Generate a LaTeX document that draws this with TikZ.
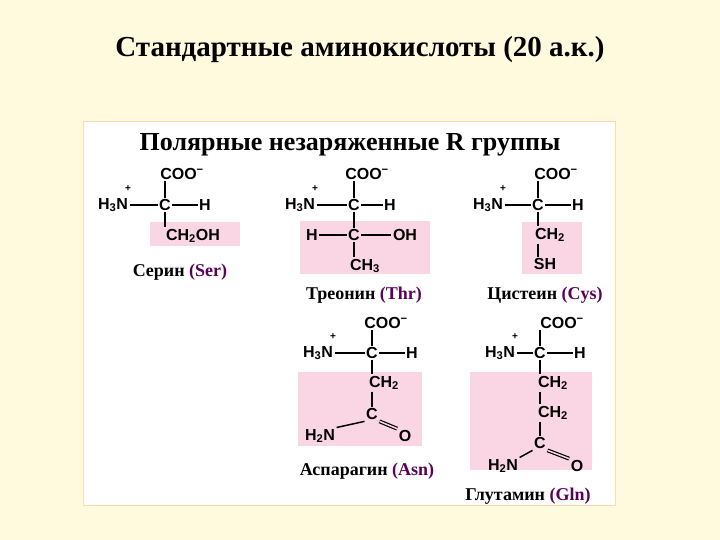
\documentclass[tikz,border=0pt]{standalone}
\usepackage{fontspec}
\setmainfont{Liberation Serif}
\setsansfont{Liberation Sans}
\definecolor{pinkbg}{RGB}{250,214,228}
\definecolor{bgc}{RGB}{255,250,222}
\begin{document}
\begin{tikzpicture}[x=1pt,y=-1pt,
  ch/.style={font=\sffamily\bfseries\fontsize{16}{16}\selectfont,inner sep=1.5pt},
  pl/.style={font=\sffamily\bfseries\fontsize{10}{10}\selectfont,inner sep=0pt},
  bd/.style={line width=1.5pt},
  pk/.style={fill=pinkbg,draw=none},
  lbl/.style={font=\bfseries\fontsize{18}{18}\selectfont}]
\useasboundingbox (0,0) rectangle (720,540);
\fill[bgc] (0,0) rectangle (720,540);
\fill[white] (83,122) rectangle (615,505);
\draw[orange!30,line width=1pt] (83,122) rectangle (615,505);
\node (title) at (360,50) {\bfseries\fontsize{29}{29}\selectfont Стандартные аминокислоты (20 а.к.)};
\node (sub) at (350,145) {\bfseries\fontsize{26}{26}\selectfont Полярные незаряженные R группы};
% pink boxes
\fill[pk] (150,222) rectangle (240,246);
\fill[pk] (300,221) rectangle (430,274);
\fill[pk] (522,222) rectangle (582,274);
\fill[pk] (298,372) rectangle (422,446);
\fill[pk] (470,372) rectangle (592,470);
% Serine
\node[ch] (s1) at (182,174) {COO\textsuperscript{−}};
\node[ch] (sN) at (113,205) {H\textsubscript{3}N};
\node[pl] (sp) at (128,189) {+};
\node[ch] (sC) at (165,205) {C};
\node[ch] (sH) at (205,205) {H};
\node[ch] (sR) at (193,236) {CH\textsubscript{2}OH};
\draw[bd] (sN) -- (sC) (sC) -- (sH);
\draw[bd] (sC.north) -- (sC.north|-s1.south) (sC.south) -- (sC.south|-sR.north);
\node[lbl] (sl) at (180,272) {Серин {\color{violet!70!black}(Ser)}};
% Threonine
\node[ch] (t1) at (367,174) {COO\textsuperscript{−}};
\node[ch] (tN) at (300,205) {H\textsubscript{3}N};
\node[pl] (tp) at (315,189) {+};
\node[ch] (tC) at (354,205) {C};
\node[ch] (tH) at (390,205) {H};
\node[ch] (tH2) at (312,235) {H};
\node[ch] (tC2) at (354,235) {C};
\node[ch] (tO) at (405,235) {OH};
\node[ch] (tR) at (365,266) {CH\textsubscript{3}};
\draw[bd] (tN) -- (tC) (tC) -- (tH) (tH2) -- (tC2) (tC2) -- (tO) (tC) -- (tC2);
\draw[bd] (tC.north) -- (tC.north|-t1.south) (tC2.south) -- (tC2.south|-tR.north);
\node[lbl] (tl) at (364,295) {Треонин {\color{violet!70!black}(Thr)}};
% Cysteine
\node[ch] (c1) at (556,174) {COO\textsuperscript{−}};
\node[ch] (cN) at (488,205) {H\textsubscript{3}N};
\node[pl] (cp) at (503,189) {+};
\node[ch] (cC) at (538,205) {C};
\node[ch] (cH) at (578,205) {H};
\node[ch] (cR) at (550,235) {CH\textsubscript{2}};
\node[ch] (cS) at (545,264) {SH};
\draw[bd] (cN) -- (cC) (cC) -- (cH);
\draw[bd] (cC.north) -- (cC.north|-c1.south) (cC.south) -- (cC.south|-cR.north) (cR.south-|cC) -- (cS.north-|cC);
\node[lbl] (cl) at (545,295) {Цистеин {\color{violet!70!black}(Cys)}};
% Asparagine
\node[ch] (a1) at (386,323) {COO\textsuperscript{−}};
\node[ch] (aN) at (318,353) {H\textsubscript{3}N};
\node[pl] (ap) at (333,337) {+};
\node[ch] (aC) at (372,353) {C};
\node[ch] (aH) at (412,353) {H};
\node[ch] (aR) at (384,383) {CH\textsubscript{2}};
\node[ch] (aC2) at (372,414) {C};
\node[ch] (aA) at (320,436) {H\textsubscript{2}N};
\node[ch] (aO) at (405,436) {O};
\draw[bd] (aN) -- (aC) (aC) -- (aH);
\draw[bd] (aC.north) -- (aC.north|-a1.south) (aC.south) -- (aC.south|-aR.north) (aR.south-|aC) -- (aC2.north);
\draw[bd] (aC2.south west) -- (aA.north east);
\draw[bd,double=pinkbg,double distance=1.5pt,line width=1.2pt] (aC2.south east) -- (aO.north west);
\node[lbl] (al) at (367,471) {Аспарагин {\color{violet!70!black}(Asn)}};
% Glutamine
\node[ch] (g1) at (562,323) {COO\textsuperscript{−}};
\node[ch] (gN) at (500,353) {H\textsubscript{3}N};
\node[pl] (gp) at (515,337) {+};
\node[ch] (gC) at (540,353) {C};
\node[ch] (gH) at (580,353) {H};
\node[ch] (gR) at (553,383) {CH\textsubscript{2}};
\node[ch] (gR2) at (553,413) {CH\textsubscript{2}};
\node[ch] (gC2) at (540,443) {C};
\node[ch] (gA) at (503,466) {H\textsubscript{2}N};
\node[ch] (gO) at (577,466) {O};
\draw[bd] (gN) -- (gC) (gC) -- (gH);
\draw[bd] (gC.north) -- (gC.north|-g1.south) (gC.south) -- (gC.south|-gR.north) (gR.south-|gC) -- (gR2.north-|gC) (gR2.south-|gC) -- (gC2.north);
\draw[bd] (gC2.south west) -- (gA.north east);
\draw[bd,double=pinkbg,double distance=1.5pt,line width=1.2pt] (gC2.south east) -- (gO.north west);
\node[lbl] (gl) at (528,496) {Глутамин {\color{violet!70!black}(Gln)}};
\end{tikzpicture}
\end{document}
